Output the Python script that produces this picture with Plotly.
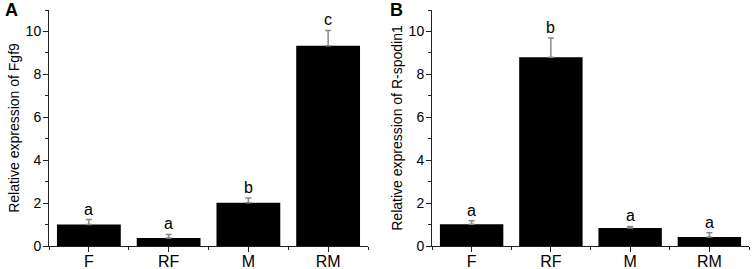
import plotly.graph_objects as go

categories = ["F", "RF", "M", "RM"]
fgf9_values = [1.0, 0.37, 2.02, 9.33]
fgf9_errors = [0.23, 0.17, 0.22, 0.72]
fgf9_letters = ["a", "a", "b", "c"]
rspo1_values = [1.01, 8.8, 0.84, 0.42]
rspo1_errors = [0.17, 0.9, 0.07, 0.2]
rspo1_letters = ["a", "b", "a", "a"]
y_ticks = [0, 2, 4, 6, 8, 10]

FONT = "Liberation Sans, Arial, sans-serif"
W, H = 754, 269
xpos = list(range(len(categories)))

fig = go.Figure()

panels = [
    ("x", "y", fgf9_values, fgf9_errors, fgf9_letters),
    ("x2", "y2", rspo1_values, rspo1_errors, rspo1_letters),
]
for xa, ya, vals, errs, letters in panels:
    fig.add_trace(go.Bar(
        x=xpos, y=vals, width=0.8, xaxis=xa, yaxis=ya,
        marker=dict(color="black", line=dict(width=0)),
        error_y=dict(type="data", array=errs, arrayminus=[0] * len(errs), symmetric=False,
                     color="#8a8a8a", thickness=1.5, width=3),
        showlegend=False,
    ))
    for i, (v, e, t) in enumerate(zip(vals, errs, letters)):
        fig.add_annotation(x=i, y=v + e, xref=xa, yref=ya, text=t, showarrow=False,
                           yanchor="bottom", font=dict(size=16, color="black", family=FONT))

axis_common = dict(showline=True, linecolor="#222", linewidth=1, ticks="outside",
                   tickcolor="#222", ticklen=5, showgrid=False, zeroline=False,
                   automargin=False)

xdoms = [[49 / W, 368 / W], [432 / W, 749 / W]]
titles = ["Relative expression of Fgf9", "Relative expression of R-spodin1"]
for k, (xd, ttl) in enumerate(zip(xdoms, titles)):
    sx = "" if k == 0 else "2"
    fig.update_layout(**{
        "xaxis" + sx: dict(domain=xd, range=[-0.5, 3.5], anchor="y" + sx,
                           tickmode="array", tickvals=xpos, ticktext=categories,
                           tickfont=dict(size=16, color="black", family=FONT),
                           ticklabelstandoff=-4,
                           minor=dict(dtick=1, tick0=-0.5, ticks="outside", ticklen=3,
                                      tickcolor="#222", showgrid=False),
                           **axis_common),
        "yaxis" + sx: dict(domain=[0, 1], range=[0, 11], anchor="x" + sx,
                           tickmode="array", tickvals=y_ticks,
                           tickfont=dict(size=14, color="black", family=FONT),
                           ticklabelstandoff=-1,
                           title=dict(text=ttl, font=dict(size=14, color="black", family=FONT),
                                      standoff=2),
                           minor=dict(dtick=1, ticks="outside", ticklen=3, tickcolor="#222",
                                      showgrid=False),
                           **axis_common),
    })

fig.add_annotation(x=3 / W, y=1.0, xref="paper", yref="paper", text="<b>A</b>",
                   showarrow=False, xanchor="left", yanchor="middle",
                   font=dict(size=18, color="black", family=FONT))
fig.add_annotation(x=388 / W, y=1.0, xref="paper", yref="paper", text="<b>B</b>",
                   showarrow=False, xanchor="left", yanchor="middle",
                   font=dict(size=18, color="black", family=FONT))

fig.update_layout(width=W, height=H, margin=dict(l=0, r=0, t=10, b=23),
                  paper_bgcolor="white", plot_bgcolor="white",
                  font=dict(family=FONT, color="black"), bargap=0.2)

fig.write_html("out.html", config={"displayModeBar": False},
               post_script="document.body.style.margin='0';document.body.style.overflow='hidden';")
